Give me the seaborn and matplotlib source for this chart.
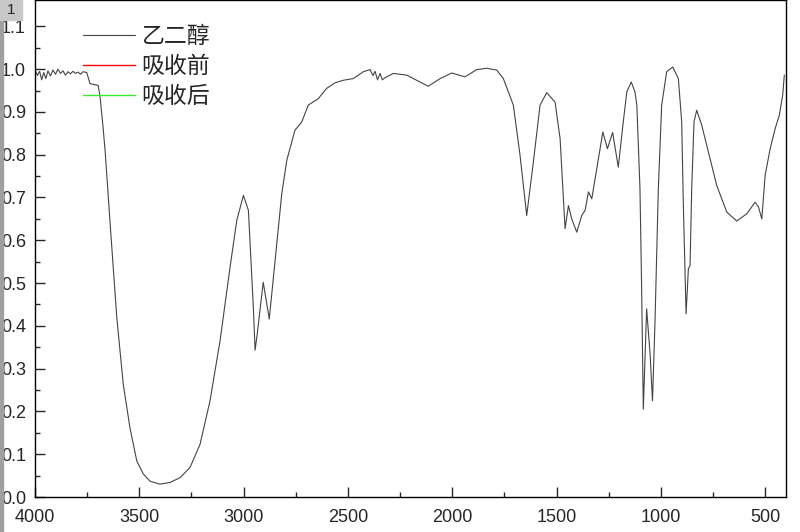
import numpy as np
import pandas as pd
import matplotlib.pyplot as plt
import matplotlib.patches as mpatches
import seaborn as sns

# wavenumber (cm-1) and transmittance
wavenumber = [4000, 3988, 3978, 3968, 3958, 3948, 3938, 3926, 3914, 3902, 3890,
              3878, 3866, 3854, 3842, 3830, 3818, 3806, 3794, 3782, 3770, 3752,
              3736, 3697, 3688, 3673, 3664, 3640, 3608, 3577, 3545, 3512, 3481,
              3449, 3401, 3353, 3305, 3257, 3209, 3161, 3113, 3065, 3033, 3001,
              2977, 2953, 2945, 2935, 2906, 2877, 2849, 2817, 2793, 2754, 2721,
              2690, 2642, 2602, 2562, 2522, 2474, 2426, 2394, 2380, 2370, 2358,
              2346, 2335, 2322, 2282, 2218, 2154, 2115, 2058, 2002, 1939, 1882,
              1835, 1787, 1755, 1707, 1675, 1643, 1611, 1579, 1547, 1507, 1483,
              1459, 1443, 1427, 1403, 1379, 1363, 1347, 1331, 1307, 1278, 1256,
              1231, 1204, 1180, 1163, 1142, 1124, 1115, 1100, 1092, 1084, 1068,
              1051, 1040, 1028, 1012, 996, 972, 943, 916, 900, 892, 884, 879,
              868, 860, 852, 841, 828, 804, 772, 732, 684, 636, 588, 548, 532,
              516, 500, 476, 452, 432, 416, 408]
ethylene_glycol = [0.998, 0.985, 0.995, 0.975, 0.992, 0.978, 0.996, 0.984, 0.998,
                   0.988, 1.000, 0.990, 0.996, 0.986, 0.994, 0.989, 0.995, 0.990,
                   0.993, 0.988, 0.994, 0.992, 0.966, 0.962, 0.935, 0.860, 0.810,
                   0.640, 0.420, 0.264, 0.162, 0.084, 0.054, 0.037, 0.030, 0.034,
                   0.045, 0.069, 0.123, 0.225, 0.365, 0.537, 0.646, 0.705, 0.670,
                   0.440, 0.343, 0.380, 0.502, 0.416, 0.553, 0.709, 0.787, 0.857,
                   0.877, 0.916, 0.931, 0.955, 0.968, 0.974, 0.978, 0.994, 0.999,
                   0.985, 0.995, 0.975, 0.990, 0.975, 0.980, 0.990, 0.986, 0.970,
                   0.960, 0.978, 0.991, 0.982, 0.999, 1.002, 0.998, 0.978, 0.916,
                   0.799, 0.658, 0.783, 0.916, 0.945, 0.923, 0.838, 0.627, 0.681,
                   0.650, 0.619, 0.658, 0.670, 0.713, 0.697, 0.767, 0.853, 0.814,
                   0.852, 0.771, 0.877, 0.947, 0.970, 0.947, 0.916, 0.721, 0.487,
                   0.205, 0.440, 0.330, 0.225, 0.408, 0.720, 0.916, 0.994, 1.005,
                   0.978, 0.877, 0.681, 0.525, 0.428, 0.533, 0.541, 0.720, 0.877,
                   0.904, 0.869, 0.806, 0.728, 0.666, 0.645, 0.662, 0.689, 0.678,
                   0.650, 0.752, 0.814, 0.861, 0.892, 0.939, 0.986]
legend_labels = ['乙二醇', '吸收前', '吸收后']
legend_colors = ['#444444', '#ff0000', '#33ee33']

df = pd.DataFrame({'wn': wavenumber, 'T': ethylene_glycol})

sns.set_style('ticks')
plt.rcParams['font.family'] = ['Liberation Sans', 'Noto Sans CJK SC', 'DejaVu Sans']

fig = plt.figure(figsize=(8, 5.32), dpi=100)
ax = fig.add_axes([35 / 800, 35 / 532, 751 / 800, 497 / 532])

sns.lineplot(data=df, x='wn', y='T', sort=False, ax=ax, color='#222222',
             linewidth=0.8, label=legend_labels[0], legend=False)
# the other two series have no data in the picture, only legend entries
ax.plot([], [], color=legend_colors[1], linewidth=1.0, label=legend_labels[1])
ax.plot([], [], color=legend_colors[2], linewidth=1.0, label=legend_labels[2])

handles, labels = ax.get_legend_handles_labels()
handles[0].set_color(legend_colors[0])
leg = ax.legend(handles, labels, loc='upper left', bbox_to_anchor=(0.036, 0.992),
                frameon=False, handlelength=2.27, handletextpad=0.3,
                labelspacing=0.31, prop={'family': ['Noto Sans CJK SC'], 'size': 16.5})

ax.set_xlim(4000, 400)
ax.set_ylim(0, 1.1616)
ax.set_xticks([4000, 3500, 3000, 2500, 2000, 1500, 1000, 500])
ax.set_xticks(np.arange(3750, 400, -500), minor=True)
ax.set_yticks(np.arange(0, 1.15, 0.1))
ax.set_yticks(np.arange(0.05, 1.15, 0.1), minor=True)
ax.set_yticklabels([f'{v:.1f}' for v in np.arange(0, 1.15, 0.1)])
ax.tick_params(which='major', direction='in', length=7, width=1, labelsize=13)
ax.tick_params(axis='x', which='major', pad=9)
ax.tick_params(axis='y', which='major', pad=6.5)
ax.tick_params(which='minor', direction='in', length=3.5, width=1)
ax.set_xlabel('')
ax.set_ylabel('')
for s in ax.spines.values():
    s.set_linewidth(1.0)
    s.set_color('black')

# layer marker and grey strip at the left edge
fig.patches.append(mpatches.Rectangle((0, 0), 3 / 800, 1, transform=fig.transFigure,
                                      color='#a0a0a0', zorder=5))
fig.patches.append(mpatches.Rectangle((0, 1 - 20 / 532), 22 / 800, 20 / 532,
                                      transform=fig.transFigure, color='#c8c8c8', zorder=6))
fig.text(11 / 800, 1 - 10 / 532, '1', ha='center', va='center', fontsize=11, zorder=7)

fig.savefig('out.png', dpi=100)
